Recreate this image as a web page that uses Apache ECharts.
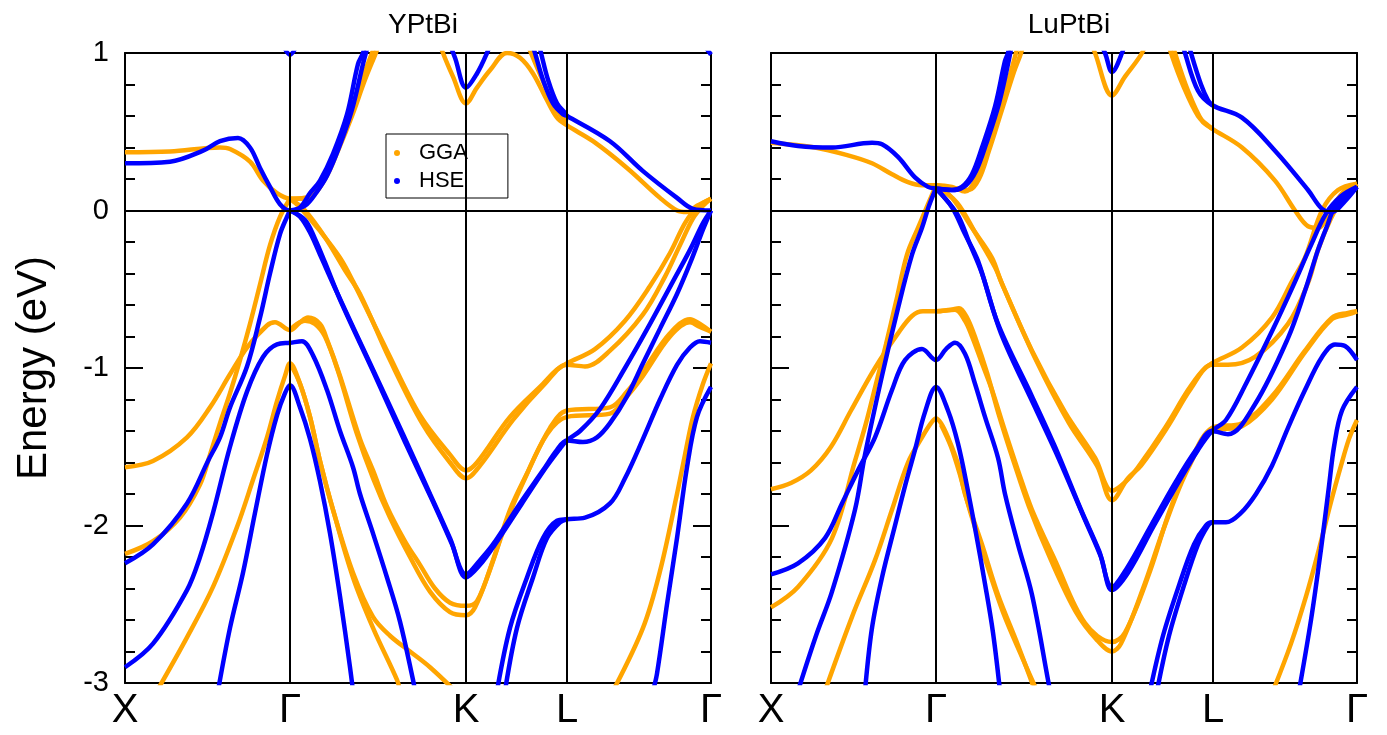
<!DOCTYPE html>
<html>
<head>
<meta charset="utf-8">
<script src="https://cdn.jsdelivr.net/npm/echarts@6/dist/echarts.min.js"></script>
<style>
  html, body { margin: 0; padding: 0; background: #fff; }
  #chart { width: 1387px; height: 735px; }
</style>
</head>
<body>
<div id="chart"></div>
<script>
// high-symmetry points along the path (k in plot units)
var kTicks = [0, 165, 341, 442, 586];
var kNames = ['X', 'Γ', 'K', 'L', 'Γ'];
var panelTitles = ['YPtBi', 'LuPtBi'];

// YPtBi, GGA bands [k, E(eV)]
var yptbiGGA = [
  [[0,0.37],[45,0.375],[95,0.40],[105,0.39],[125,0.31],[138,0.19],[152,0.11],[165,0.075],[182,0.075],[195,0.15],[208,0.32],[222,0.55],[235,0.80],[247,1.0],[253,1.1]],
  [[165,0.075],[185,0.09],[200,0.2],[213,0.38],[227,0.6],[240,0.83],[252,1.02],[256,1.1]],
  [[310,1.15],[318,1.0],[328,0.85],[341,0.68],[352,0.78],[365,0.89],[382,1.0],[395,0.97],[408,0.87],[422,0.70],[432,0.59],[442,0.54],[468,0.44],[502,0.27],[535,0.08],[552,0.0],[562,-0.01],[572,0.03],[586,0.075]],
  [[400,1.1],[406,1.0],[416,0.85],[428,0.68],[436,0.6],[442,0.56]],
  [[165,0.075],[175,0.02],[195,-0.13],[215,-0.30],[228,-0.45],[262,-0.89],[295,-1.30],[325,-1.55],[341,-1.65],[352,-1.60],[385,-1.31],[418,-1.10],[432,-1.01],[442,-0.97],[470,-0.88],[500,-0.70],[525,-0.48],[545,-0.27],[560,-0.08],[572,0.02],[586,0.075]],
  [[165,0.075],[180,0.0],[200,-0.17],[220,-0.38],[235,-0.53],[265,-0.95],[298,-1.36],[325,-1.60],[341,-1.70],[355,-1.62],[388,-1.33],[420,-1.10],[442,-0.98],[460,-0.99],[485,-0.89],[518,-0.66],[540,-0.42],[555,-0.22],[568,-0.05],[578,0.03],[586,0.075]],
  [[0,-1.63],[28,-1.59],[62,-1.44],[85,-1.25],[105,-1.04],[122,-0.87],[142,-0.73],[150,-0.71],[165,-0.76],[175,-0.71],[183,-0.68],[195,-0.72],[202,-0.82],[215,-1.05],[235,-1.45],[248,-1.65],[262,-1.88],[280,-2.10],[295,-2.25],[310,-2.40],[325,-2.49],[341,-2.51],[352,-2.48],[368,-2.22],[385,-1.90],[402,-1.67],[425,-1.38],[442,-1.27],[485,-1.25],[502,-1.15],[518,-1.02],[545,-0.78],[565,-0.69],[575,-0.72],[586,-0.77]],
  [[165,-0.76],[172,-0.72],[180,-0.70],[190,-0.72],[200,-0.80],[213,-1.02],[232,-1.42],[248,-1.70],[265,-1.95],[285,-2.2],[305,-2.42],[325,-2.55],[341,-2.57],[350,-2.52],[365,-2.28],[383,-1.95],[400,-1.70],[422,-1.42],[442,-1.31],[485,-1.29],[502,-1.18],[518,-1.05],[545,-0.80],[565,-0.71],[575,-0.74],[586,-0.77]],
  [[0,-2.18],[28,-2.10],[55,-1.95],[75,-1.74],[85,-1.55],[95,-1.35],[105,-1.16],[115,-0.95],[125,-0.72],[135,-0.47],[145,-0.22],[155,-0.04],[165,0.075]],
  [[32,-3.05],[62,-2.71],[88,-2.39],[112,-2.01],[128,-1.71],[142,-1.44],[152,-1.21],[160,-1.05],[165,-0.97],[175,-1.10],[185,-1.31],[195,-1.59],[208,-1.90],[228,-2.33],[248,-2.65],[272,-2.98],[275,-3.05]],
  [[165,-0.97],[175,-1.10],[185,-1.31],[195,-1.59],[208,-1.90],[228,-2.30],[248,-2.58],[265,-2.70],[285,-2.80],[305,-2.90],[330,-3.05]],
  [[488,-3.05],[518,-2.65],[535,-2.29],[552,-1.80],[560,-1.55],[568,-1.31],[578,-1.10],[586,-0.97]]
];

// YPtBi, HSE bands
var yptbiHSE = [
  [[0,0.30],[45,0.31],[78,0.38],[95,0.44],[113,0.46],[125,0.40],[135,0.27],[145,0.15],[155,0.04],[165,0.0],[175,0.02],[185,0.11],[195,0.19],[208,0.36],[222,0.61],[233,0.93],[238,1.0],[242,1.1]],
  [[165,0.0],[180,0.03],[192,0.12],[202,0.22],[214,0.40],[227,0.64],[238,0.93],[243,1.05],[245,1.1]],
  [[322,1.1],[330,0.97],[341,0.78],[352,0.87],[362,1.0],[368,1.1]],
  [[405,1.1],[410,1.0],[418,0.83],[428,0.68],[438,0.61],[442,0.60],[485,0.44],[518,0.25],[552,0.08],[568,0.01],[586,0.0]],
  [[412,1.1],[416,1.0],[423,0.83],[432,0.68],[440,0.62],[442,0.60]],
  [[165,0],[175,-0.04],[185,-0.14],[195,-0.28],[212,-0.52],[245,-0.97],[278,-1.42],[305,-1.80],[325,-2.08],[341,-2.31],[355,-2.22],[368,-2.12],[395,-1.86],[418,-1.65],[432,-1.52],[442,-1.46],[458,-1.47],[472,-1.44],[485,-1.35],[502,-1.18],[518,-0.97],[535,-0.75],[552,-0.53],[566,-0.32],[578,-0.12],[586,0]],
  [[165,0],[180,-0.06],[190,-0.18],[200,-0.33],[216,-0.58],[248,-1.02],[280,-1.47],[308,-1.85],[327,-2.12],[341,-2.33],[355,-2.25],[370,-2.12],[397,-1.86],[420,-1.64],[434,-1.52],[442,-1.46],[455,-1.40],[475,-1.26],[500,-1.0],[525,-0.72],[548,-0.45],[565,-0.25],[578,-0.08],[586,0]],
  [[0,-2.24],[28,-2.12],[62,-1.86],[83,-1.59],[95,-1.44],[105,-1.25],[122,-0.99],[135,-0.68],[145,-0.40],[155,-0.15],[162,-0.04],[165,0]],
  [[0,-2.90],[28,-2.75],[62,-2.41],[75,-2.20],[88,-1.92],[105,-1.50],[122,-1.15],[138,-0.93],[152,-0.85],[165,-0.84],[177,-0.83],[188,-0.92],[202,-1.14],[215,-1.40],[228,-1.63],[235,-1.80],[248,-2.05],[262,-2.33],[275,-2.61],[288,-2.98],[290,-3.05]],
  [[93,-3.05],[105,-2.65],[118,-2.30],[130,-1.92],[142,-1.55],[152,-1.30],[160,-1.16],[165,-1.11],[175,-1.25],[185,-1.45],[195,-1.72],[205,-2.05],[215,-2.45],[225,-2.90],[228,-3.05]],
  [[372,-3.05],[385,-2.65],[402,-2.33],[418,-2.08],[432,-1.97],[442,-1.96],[460,-1.95],[485,-1.86],[500,-1.70],[518,-1.45],[535,-1.20],[552,-0.98],[565,-0.87],[575,-0.83],[586,-0.84]],
  [[380,-3.05],[392,-2.65],[408,-2.33],[422,-2.08],[435,-1.98],[442,-1.96]],
  [[528,-3.05],[532,-2.94],[542,-2.50],[552,-2.08],[562,-1.63],[572,-1.31],[586,-1.12]],
  [[158,1.05],[165,0.99],[172,1.05]],
  [[579,1.05],[586,0.99]]
];

// LuPtBi, GGA bands
var luptbiGGA = [
  [[0,0.43],[44,0.40],[77,0.35],[101,0.30],[121,0.23],[137,0.18],[151,0.16],[165,0.16],[181,0.15],[194,0.12],[204,0.19],[214,0.38],[227,0.61],[238,0.84],[245,1.0],[249,1.1]],
  [[165,0.16],[185,0.14],[198,0.13],[208,0.2],[218,0.38],[230,0.62],[243,0.88],[250,1.0],[254,1.1]],
  [[318,1.1],[324,1.0],[341,0.73],[354,0.85],[371,1.0],[376,1.1]],
  [[400,1.1],[404,1.0],[417,0.76],[431,0.57],[441,0.52],[471,0.40],[504,0.19],[524,0.0],[537,-0.10],[547,-0.11],[561,0.02],[574,0.13],[586,0.17]],
  [[396,1.1],[400,1.0],[413,0.78],[427,0.6],[437,0.54],[441,0.52]],
  [[165,0.16],[181,0.08],[201,-0.11],[221,-0.30],[230,-0.45],[261,-0.89],[294,-1.28],[324,-1.57],[341,-1.78],[355,-1.72],[367,-1.63],[394,-1.38],[417,-1.14],[431,-1.02],[441,-0.97],[471,-0.87],[501,-0.68],[521,-0.45],[534,-0.30],[551,0.0],[567,0.13],[586,0.17]],
  [[165,0.16],[186,0.05],[205,-0.15],[224,-0.36],[232,-0.48],[265,-0.95],[298,-1.35],[326,-1.62],[341,-1.84],[357,-1.70],[370,-1.62],[397,-1.37],[420,-1.13],[441,-0.98],[457,-0.98],[484,-0.93],[517,-0.72],[537,-0.46],[547,-0.25],[560,-0.05],[572,0.08],[586,0.17]],
  [[0,-1.77],[20,-1.73],[40,-1.65],[60,-1.50],[80,-1.27],[104,-1.0],[127,-0.78],[141,-0.67],[152,-0.64],[165,-0.64],[184,-0.63],[194,-0.70],[201,-0.80],[211,-0.97],[221,-1.14],[234,-1.40],[247,-1.65],[261,-1.90],[284,-2.22],[314,-2.62],[341,-2.74],[354,-2.68],[379,-2.29],[399,-1.90],[419,-1.60],[441,-1.38],[471,-1.35],[501,-1.18],[534,-0.89],[561,-0.68],[577,-0.65],[586,-0.64]],
  [[165,-0.64],[180,-0.63],[188,-0.62],[196,-0.68],[205,-0.82],[216,-1.03],[228,-1.3],[243,-1.6],[258,-1.88],[280,-2.22],[305,-2.55],[325,-2.72],[341,-2.80],[350,-2.75],[372,-2.40],[395,-1.98],[417,-1.64],[441,-1.40],[471,-1.37],[501,-1.2],[534,-0.9],[561,-0.69],[577,-0.66],[586,-0.64]],
  [[0,-2.52],[27,-2.39],[61,-2.08],[84,-1.59],[95,-1.35],[105,-1.10],[115,-0.85],[125,-0.58],[136,-0.28],[147,-0.11],[157,0.04],[165,0.16]],
  [[54,-3.05],[81,-2.58],[104,-2.22],[121,-1.90],[137,-1.60],[151,-1.44],[160,-1.35],[165,-1.32],[170,-1.35],[177,-1.44],[187,-1.61],[194,-1.80],[211,-2.12],[227,-2.44],[247,-2.76],[264,-3.05]],
  [[170,-1.36],[180,-1.50],[190,-1.70],[200,-1.93],[216,-2.25],[232,-2.55],[252,-2.85],[266,-3.05]],
  [[502,-3.05],[520,-2.75],[535,-2.45],[548,-2.15],[560,-1.85],[570,-1.62],[578,-1.45],[586,-1.33]]
];

// LuPtBi, HSE bands
var luptbiHSE = [
  [[0,0.44],[27,0.41],[61,0.40],[101,0.43],[111,0.42],[127,0.34],[144,0.21],[157,0.15],[165,0.14],[181,0.13],[191,0.15],[201,0.23],[211,0.40],[224,0.66],[234,0.95],[237,1.0],[240,1.1]],
  [[165,0.14],[183,0.13],[195,0.16],[205,0.25],[215,0.42],[228,0.68],[238,0.96],[242,1.1]],
  [[326,1.1],[334,1.0],[341,0.88],[351,1.0],[355,1.1]],
  [[410,1.1],[414,1.0],[427,0.76],[441,0.67],[471,0.59],[504,0.38],[537,0.13],[551,0.01],[561,-0.01],[574,0.06],[586,0.15]],
  [[416,1.1],[420,1.0],[430,0.8],[437,0.7],[441,0.67]],
  [[165,0.14],[181,0.02],[194,-0.15],[207,-0.32],[227,-0.72],[261,-1.18],[284,-1.50],[310,-1.90],[328,-2.16],[341,-2.39],[355,-2.28],[380,-2.0],[405,-1.72],[425,-1.52],[441,-1.40],[457,-1.42],[484,-1.23],[517,-0.81],[534,-0.51],[547,-0.25],[556,-0.1],[564,0.02],[586,0.15]],
  [[165,0.14],[186,-0.02],[198,-0.2],[211,-0.4],[230,-0.78],[264,-1.25],[288,-1.58],[313,-1.95],[330,-2.2],[341,-2.41],[357,-2.30],[383,-2.0],[408,-1.72],[427,-1.52],[441,-1.40],[455,-1.33],[475,-1.1],[500,-0.78],[522,-0.48],[540,-0.22],[555,-0.02],[570,0.09],[586,0.15]],
  [[0,-2.31],[27,-2.24],[54,-2.08],[71,-1.86],[87,-1.65],[104,-1.44],[121,-1.14],[134,-0.95],[151,-0.88],[165,-0.95],[175,-0.88],[184,-0.84],[194,-0.91],[204,-1.10],[214,-1.31],[227,-1.57],[234,-1.80],[247,-2.12],[261,-2.44],[277,-2.98],[279,-3.05]],
  [[27,-3.05],[45,-2.70],[61,-2.42],[84,-1.90],[94,-1.55],[111,-1.05],[127,-0.62],[141,-0.28],[151,-0.11],[158,0.03],[165,0.14]],
  [[94,-3.05],[101,-2.65],[111,-2.33],[124,-2.0],[134,-1.75],[144,-1.52],[154,-1.28],[165,-1.12],[177,-1.27],[187,-1.48],[196,-1.75],[205,-2.05],[214,-2.37],[222,-2.68],[229,-3.05]],
  [[379,-3.05],[392,-2.7],[408,-2.38],[423,-2.12],[435,-2.0],[441,-1.98],[455,-1.98],[470,-1.92],[485,-1.80],[501,-1.62],[517,-1.38],[534,-1.14],[551,-0.93],[564,-0.85],[574,-0.86],[586,-0.95]],
  [[386,-3.05],[398,-2.7],[413,-2.38],[427,-2.12],[437,-2.0],[441,-1.98]],
  [[528,-3.05],[540,-2.6],[550,-2.15],[558,-1.75],[563,-1.5],[571,-1.27],[586,-1.12]]
];

var ggaColor = '#ffa500';
var hseColor = '#0000ff';
var font = 'Liberation Sans, Arial, sans-serif';

var chart = echarts.init(document.getElementById('chart'));

var grids = [
  { left: 125, top: 53, width: 586, height: 630 },
  { left: 771, top: 53, width: 586, height: 630 }
];

var xAxes = [], yAxes = [], series = [];
var axisLine = { show: true, onZero: false, lineStyle: { color: '#000', width: 2 } };

for (var p = 0; p < 2; p++) {
  xAxes.push({
    type: 'value', gridIndex: p, min: 0, max: 586, position: 'bottom',
    axisLine: axisLine, axisTick: { show: false }, splitLine: { show: false },
    axisLabel: {
      customValues: kTicks, color: '#000', fontSize: 40, fontFamily: font, margin: 8,
      formatter: function (v) { return kNames[kTicks.indexOf(v)]; }
    }
  });
  xAxes.push({
    type: 'value', gridIndex: p, min: 0, max: 586, position: 'top',
    axisLine: axisLine, axisTick: { show: false }, axisLabel: { show: false }, splitLine: { show: false }
  });
  var yBase = {
    type: 'value', gridIndex: p, min: -3, max: 1, interval: 1,
    axisLine: axisLine, splitLine: { show: false },
    axisTick: { show: true, inside: true, length: 18, lineStyle: { color: '#000', width: 2 } },
    minorTick: { show: true, splitNumber: 5, length: 10, lineStyle: { color: '#000', width: 2 } }
  };
  yAxes.push(Object.assign({}, yBase, {
    position: 'left',
    axisLabel: { show: p === 0, color: '#000', fontSize: 29, fontFamily: font, margin: 16 },
    name: p === 0 ? 'Energy (eV)' : '', nameLocation: 'middle', nameGap: 70,
    nameTextStyle: { fontSize: 42, fontFamily: font, color: '#000' }
  }));
  yAxes.push(Object.assign({}, yBase, { position: 'right', axisLabel: { show: false } }));

  // vertical lines at high-symmetry points and the Fermi level
  series.push({
    type: 'line', xAxisIndex: p * 2, yAxisIndex: p * 2, data: [], silent: true, z: 1,
    markLine: {
      silent: true, symbol: 'none', label: { show: false },
      lineStyle: { color: '#000', width: 2, type: 'solid' },
      data: [{ xAxis: kTicks[1] }, { xAxis: kTicks[2] }, { xAxis: kTicks[3] }, { yAxis: 0 }]
    }
  });

  var sets = p === 0 ? [[yptbiGGA, 'GGA', ggaColor], [yptbiHSE, 'HSE', hseColor]]
                     : [[luptbiGGA, 'GGA', ggaColor], [luptbiHSE, 'HSE', hseColor]];
  sets.forEach(function (s) {
    s[0].forEach(function (band) {
      series.push({
        type: 'line', name: s[1], xAxisIndex: p * 2, yAxisIndex: p * 2,
        data: band, showSymbol: false, smooth: 0.35, clip: true, z: 2,
        itemStyle: { color: s[2] },
        lineStyle: { color: s[2], width: 4.5 },
        emphasis: { disabled: true }
      });
    });
  });
}

chart.setOption({
  animation: false,
  backgroundColor: '#fff',
  title: [
    { text: panelTitles[0], left: 418, top: 6, textAlign: 'center', textStyle: { fontSize: 28, fontWeight: 'normal', fontFamily: font, color: '#000' } },
    { text: panelTitles[1], left: 1064, top: 6, textAlign: 'center', textStyle: { fontSize: 28, fontWeight: 'normal', fontFamily: font, color: '#000' } }
  ],
  legend: {
    data: ['GGA', 'HSE'], orient: 'vertical', left: 386, top: 134,
    borderColor: '#000', borderWidth: 1, borderRadius: 0,
    padding: [8, 40, 6, 8], itemGap: 6, icon: 'circle', itemWidth: 6, itemHeight: 6,
    textStyle: { fontSize: 22, fontFamily: font, color: '#000', padding: [0, 0, 0, 14] },
    selectedMode: false
  },
  grid: grids,
  xAxis: xAxes,
  yAxis: yAxes,
  series: series
});
</script>
</body>
</html>
